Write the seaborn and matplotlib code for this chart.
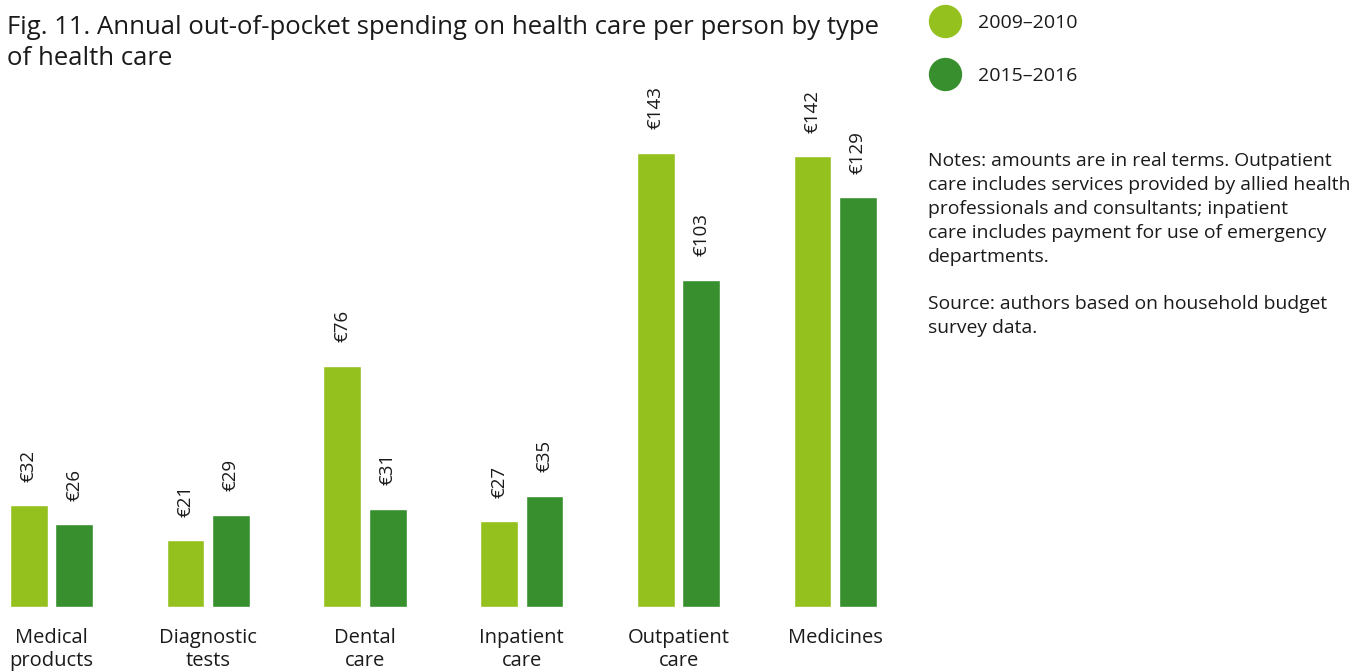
import matplotlib
matplotlib.use("Agg")
import matplotlib.pyplot as plt
from matplotlib.lines import Line2D
import seaborn as sns
import pandas as pd

categories = ["Medical\nproducts", "Diagnostic\ntests", "Dental\ncare",
              "Inpatient\ncare", "Outpatient\ncare", "Medicines"]
periods = ["2009\u20132010", "2015\u20132016"]
spend_2009_2010 = [32, 21, 76, 27, 143, 142]
spend_2015_2016 = [26, 29, 31, 35, 103, 129]
colors = ["#95C11F", "#378F2E"]

title = ("Fig. 11. Annual out-of-pocket spending on health care per person by type\n"
         "of health care")
notes = ("Notes: amounts are in real terms. Outpatient\n"
         "care includes services provided by allied health\n"
         "professionals and consultants; inpatient\n"
         "care includes payment for use of emergency\n"
         "departments.\n"
         "\n"
         "Source: authors based on household budget\n"
         "survey data.")

df = pd.DataFrame({
    "category": categories * 2,
    "period": [periods[0]] * len(categories) + [periods[1]] * len(categories),
    "value": spend_2009_2010 + spend_2015_2016,
})

sns.set_theme(style="white")
plt.rcParams["font.family"] = ["Open Sans", "DejaVu Sans"]
text_color = "#1a1a1a"

W, H = 1365, 671
fig = plt.figure(figsize=(W / 100, H / 100), dpi=100)
ax_left, ax_right, ax_top, ax_bottom = 0, 900, 80, 607
ax = fig.add_axes([ax_left / W, 1 - ax_bottom / H,
                   (ax_right - ax_left) / W, (ax_bottom - ax_top) / H])

sns.barplot(data=df, x="category", y="value", hue="period", palette=colors,
            width=0.58, gap=0.165, legend=False, saturation=1, ax=ax)

# horizontal scale: pixels per category step and first category centre
px_per_cat = 156.75
x0 = 51.5
ax.set_xlim((ax_left - x0) / px_per_cat, (ax_right - x0) / px_per_cat)
px_per_unit = 3.175
ax.set_ylim(0, (ax_bottom - ax_top) / px_per_unit)

for cont, vals in zip(ax.containers, [spend_2009_2010, spend_2015_2016]):
    ax.bar_label(cont, labels=[f"\u20ac{v}" for v in vals], rotation=90,
                 padding=17, fontsize=13.5, color=text_color)

ax.set_xlabel("")
ax.set_ylabel("")
ax.set_yticks([])
ax.tick_params(axis="x", length=0, pad=15, labelsize=14.5, colors=text_color)
for lbl in ax.get_xticklabels():
    lbl.set_linespacing(1.22)
for s in ax.spines.values():
    s.set_visible(False)

fig.text(7 / W, 1 - 15 / H, title, ha="left", va="top", fontsize=18.5,
         color=text_color, linespacing=1.3)

handles = [Line2D([], [], marker="o", linestyle="none", markersize=23,
                  markerfacecolor=c, markeredgecolor=c) for c in colors]
fig.legend(handles, periods, loc="upper left", bbox_to_anchor=(918 / W, 1 - 6 / H),
           frameon=False, fontsize=14, labelspacing=1.8, handletextpad=0.7,
           borderaxespad=0, labelcolor=text_color)

fig.text(928 / W, 1 - 152 / H, notes, ha="left", va="top", fontsize=13.9,
         color=text_color, linespacing=1.42)

fig.savefig("out.png", dpi=100)
